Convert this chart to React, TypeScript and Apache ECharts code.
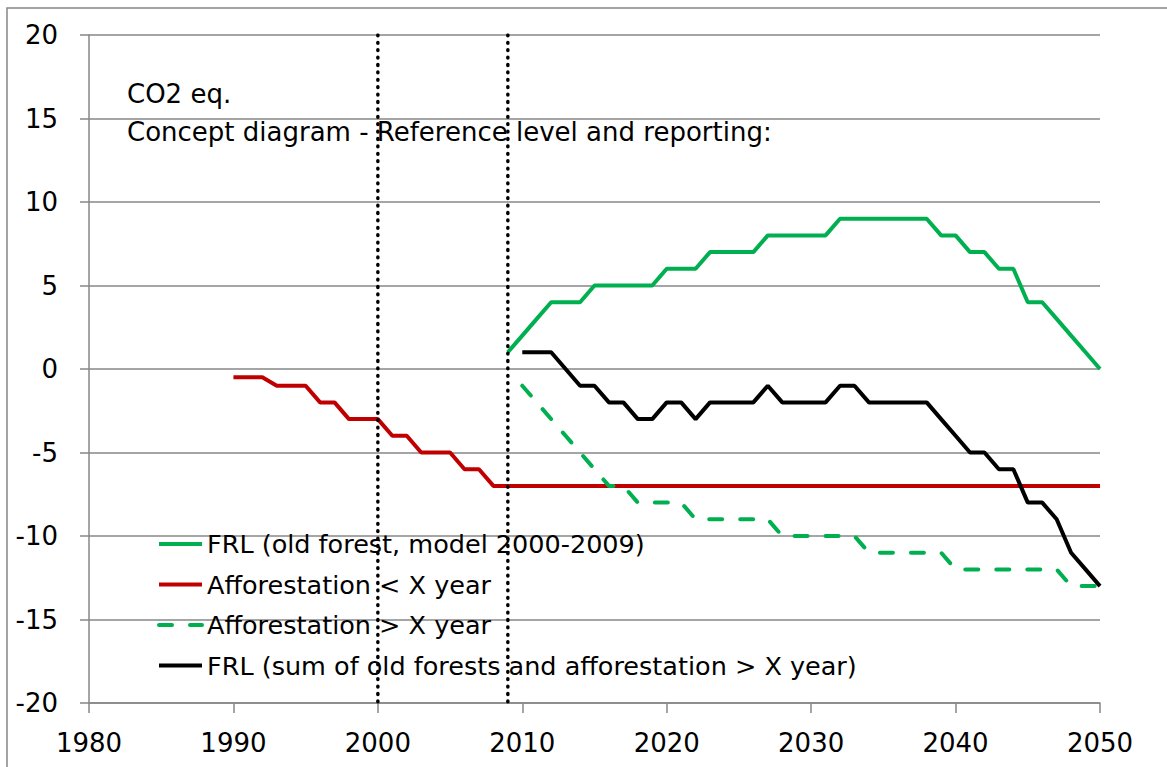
import React, { useEffect, useRef } from "react";
import * as echarts from "echarts";

const FONT = "DejaVu Sans";

// Axes
const X_MIN = 1980;
const X_MAX = 2050;
const X_STEP = 10;
const Y_MIN = -20;
const Y_MAX = 20;
const Y_STEP = 5;

// Series names (legend order)
const seriesNames = [
  "FRL (old forest, model 2000-2009)",
  "Afforestation < X year",
  "Afforestation > X year",
  "FRL (sum of old forests and afforestation > X year)",
];

// FRL (old forest, model 2000-2009): yearly values from 2009
const oldForestStart = 2009;
const oldForestValues = [
  1, 2, 3, 4, 4, 4, 5, 5, 5, 5, 5, 6, 6, 6, 7, 7, 7, 7, 8, 8, 8, 8, 8, 9, 9, 9,
  9, 9, 9, 9, 8, 8, 7, 7, 6, 6, 4, 4, 3, 2, 1, 0,
];

// Afforestation < X year: yearly values from 1990
const affLessStart = 1990;
const affLessValues = [
  -0.5, -0.5, -0.5, -1, -1, -1, -2, -2, -3, -3, -3, -4, -4, -5, -5, -5, -6, -6,
  -7, -7, -7, -7, -7, -7, -7, -7, -7, -7, -7, -7, -7, -7, -7, -7, -7, -7, -7,
  -7, -7, -7, -7, -7, -7, -7, -7, -7, -7, -7, -7, -7, -7, -7, -7, -7, -7, -7,
  -7, -7, -7, -7, -7,
];

// Afforestation > X year: yearly values from 2010
const affMoreStart = 2010;
const affMoreValues = [
  -1, -2, -3, -4, -5, -6, -7, -7, -8, -8, -8, -8, -9, -9, -9, -9, -9, -9, -10,
  -10, -10, -10, -10, -10, -11, -11, -11, -11, -11, -11, -12, -12, -12, -12,
  -12, -12, -12, -12, -13, -13, -13,
];

// FRL (sum of old forests and afforestation > X year): yearly values from 2010
const sumStart = 2010;
const sumValues = [
  1, 1, 1, 0, -1, -1, -2, -2, -3, -3, -2, -2, -3, -2, -2, -2, -2, -1, -2, -2,
  -2, -2, -1, -1, -2, -2, -2, -2, -2, -3, -4, -5, -5, -6, -6, -8, -8, -9, -11,
  -12, -13,
];

// Vertical dotted reference years
const markerYears = [2000, 2009];

// Annotation text
const annotationLines = [
  "CO2 eq.",
  "Concept diagram - Reference level and reporting:",
];

const toPairs = (start: number, vals: number[]) =>
  vals.map((v, i) => [start + i, v]);

const GRID_GRAY = "#878787";

export default function App() {
  const ref = useRef<HTMLDivElement>(null);

  useEffect(() => {
    document.body.style.margin = "0";
    if (!ref.current) return;
    const chart = echarts.init(ref.current, undefined, { renderer: "svg" });

    const lineSeries = [
      {
        name: seriesNames[0],
        data: toPairs(oldForestStart, oldForestValues),
        lineStyle: { color: "#00B050", width: 4 },
        itemStyle: { color: "#00B050" },
      },
      {
        name: seriesNames[1],
        data: toPairs(affLessStart, affLessValues),
        lineStyle: { color: "#C00000", width: 4 },
        itemStyle: { color: "#C00000" },
      },
      {
        name: seriesNames[2],
        data: toPairs(affMoreStart, affMoreValues),
        lineStyle: {
          color: "#00B050",
          width: 4,
          type: [13, 18],
          cap: "round",
        },
        itemStyle: { color: "#00B050" },
      },
      {
        name: seriesNames[3],
        data: toPairs(sumStart, sumValues),
        lineStyle: { color: "#000000", width: 4 },
        itemStyle: { color: "#000000" },
      },
    ].map((s, i) => ({
      type: "line",
      symbol: "none",
      showSymbol: false,
      z: 2 + i * 0.01,
      ...s,
    }));

    const markerSeries = markerYears.map((yr) => ({
      type: "line",
      name: "marker" + yr,
      symbol: "none",
      silent: true,
      z: 10,
      data: [
        [yr, Y_MAX],
        [yr, Y_MIN],
      ],
      lineStyle: { color: "#000", width: 3.5, type: [0.8, 6.6], cap: "round" },
    }));

    const option = {
      animation: false,
      backgroundColor: "#ffffff",
      textStyle: { fontFamily: FONT },
      grid: { left: 89, right: 67, top: 35, bottom: 64, containLabel: false },
      xAxis: {
        type: "value",
        min: X_MIN,
        max: X_MAX,
        interval: X_STEP,
        axisLine: {
          show: true,
          onZero: false,
          lineStyle: { color: GRID_GRAY, width: 1.5 },
        },
        axisTick: {
          show: true,
          length: 10,
          lineStyle: { color: GRID_GRAY, width: 1.5 },
        },
        axisLabel: {
          color: "#000",
          fontSize: 26,
          fontFamily: FONT,
          margin: 27,
          formatter: (v: number) => String(v),
        },
        splitLine: { show: false },
      },
      yAxis: {
        type: "value",
        min: Y_MIN,
        max: Y_MAX,
        interval: Y_STEP,
        axisLine: {
          show: true,
          onZero: false,
          lineStyle: { color: GRID_GRAY, width: 1.5 },
        },
        axisTick: {
          show: true,
          length: 9,
          lineStyle: { color: GRID_GRAY, width: 1.5 },
        },
        axisLabel: {
          color: "#000",
          fontSize: 26,
          fontFamily: FONT,
          margin: 31,
          formatter: (v: number) => String(v),
        },
        splitLine: {
          show: true,
          lineStyle: { color: GRID_GRAY, width: 1.5 },
        },
      },
      legend: {
        data: seriesNames,
        orient: "vertical",
        left: 157,
        top: 529,
        itemWidth: 43,
        itemHeight: 14,
        itemGap: 10.5,
        padding: 0,
        selectedMode: false,
        itemStyle: { opacity: 0 },
        lineStyle: { width: "inherit" },
        textStyle: {
          color: "#000",
          fontSize: 25.5,
          fontFamily: FONT,
          lineHeight: 30,
        },
      },
      graphic: [
        {
          type: "rect",
          silent: true,
          z: -10,
          shape: { x: 7, y: 8, width: 1200, height: 800 },
          style: { fill: "none", stroke: GRID_GRAY, lineWidth: 1.5 },
        },
        ...annotationLines.map((t, i) => ({
          type: "text",
          silent: true,
          x: 127,
          y: 93.5 + i * 38,
          style: {
            text: t,
            fill: "#000",
            fontSize: 26,
            fontFamily: FONT,
            align: "left",
            verticalAlign: "middle",
          },
        })),
      ],
      series: [...lineSeries, ...markerSeries],
    };

    chart.setOption(option as any);
    return () => chart.dispose();
  }, []);

  return <div ref={ref} style={{ width: 1167, height: 767 }} />;
}
